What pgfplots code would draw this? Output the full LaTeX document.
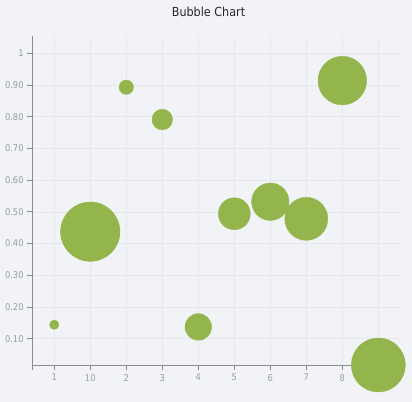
\documentclass[border=0pt]{standalone}
\usepackage{pgfplots}
\pgfplotsset{compat=1.18}
\usepackage{fontspec}
\setmainfont{DejaVu Sans Condensed}
\definecolor{bgcol}{RGB}{242,243,247}
\definecolor{bubble}{RGB}{148,181,76}
\definecolor{axcol}{RGB}{140,140,140}
\definecolor{gridcol}{RGB}{230,232,238}
\definecolor{labcol}{RGB}{150,156,168}
\definecolor{titcol}{RGB}{40,40,40}
\pgfplotstableread{
x y r
0 0.144 4.7
1 0.4375 29.7
2 0.893 7.2
3 0.791 10.3
4 0.137 13.3
5 0.494 16.0
6 0.532 18.7
7 0.478 21.5
8 0.914 24.3
9 0.017 27.0
}\bubbles
\begin{document}
\begin{tikzpicture}
\fill[bgcol] (-32.3bp,-37bp) rectangle (379.7bp,365bp);
\useasboundingbox (-32.3bp,-37bp) rectangle (379.7bp,365bp);
\node[font=\fontsize{12.5}{14}\selectfont, text=titcol, anchor=base] at (176.2bp,348.3bp) {Bubble Chart};
\begin{axis}[
  at={(0,0)}, anchor=south west,
  scale only axis, width=368bp, height=329bp,
  xmin=-0.61, xmax=9.61, ymin=0.017, ymax=1.0546,
  clip=false,
  axis lines=left,
  axis line style={-, draw=axcol, line width=0.9pt},
  tick style={draw=axcol, line width=0.9pt},
  tick align=outside,
  major tick length=5bp,
  xtick={0,1,2,3,4,5,6,7,8,9},
  xticklabels={1,10,2,3,4,5,6,7,8,9},
  extra x ticks={-0.61,9.61},
  extra x tick labels={},
  extra x tick style={grid=none},
  ytick={0.1,0.2,0.3,0.4,0.5,0.6,0.7,0.8,0.9,1},
  yticklabels={0.10,0.20,0.30,0.40,0.50,0.60,0.70,0.80,0.90,1},
  grid=major,
  major grid style={draw=gridcol, line width=0.6pt},
  ticklabel style={font=\fontsize{9.3}{11}\selectfont, text=labcol},
  yticklabel style={inner sep=0pt, xshift=-3.5bp},
  xticklabel style={inner sep=0pt, yshift=-4bp},
]
\addplot[
  scatter, only marks, mark=*,
  scatter/use mapped color={draw=bubble, fill=bubble},
  visualization depends on={\thisrow{r} \as \rad},
  scatter/@pre marker code/.append style={/tikz/mark size=\rad bp},
] table[x=x, y=y] {\bubbles};
\end{axis}
\end{tikzpicture}
\end{document}
